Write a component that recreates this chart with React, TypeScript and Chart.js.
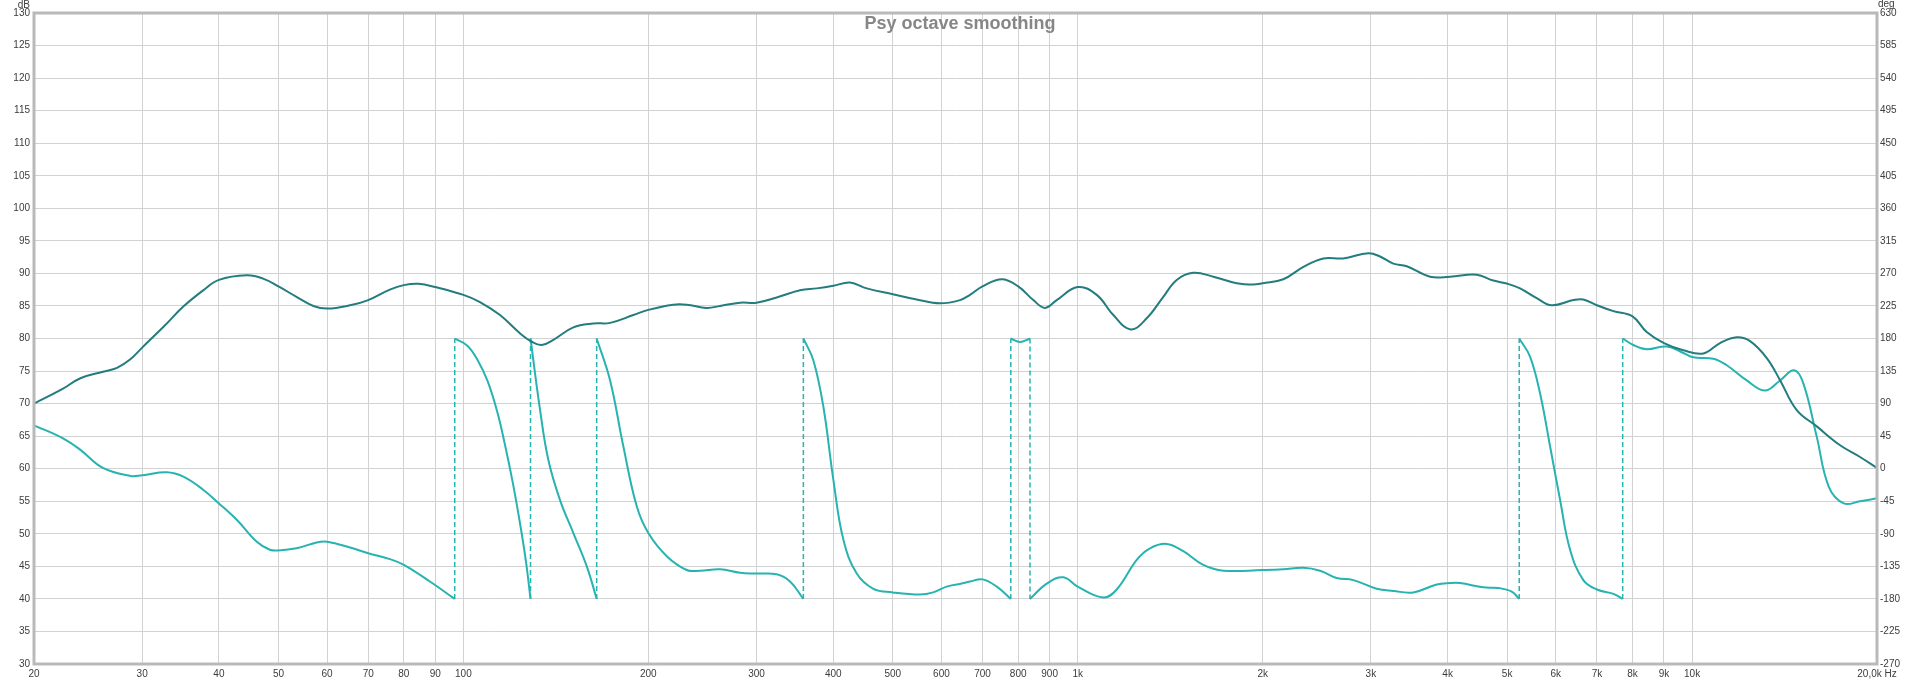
import React, { useEffect, useRef } from 'react';
import { Chart, registerables } from 'chart.js';

Chart.register(...registerables);

const chartTitle = 'Psy octave smoothing';
const leftUnit = 'dB';
const rightUnit = 'deg';

const freqTicks = [20, 30, 40, 50, 60, 70, 80, 90, 100, 200, 300, 400, 500, 600, 700, 800, 900, 1000, 2000, 3000, 4000, 5000, 6000, 7000, 8000, 9000, 10000, 20000];
const freqTickLabels = ['20', '30', '40', '50', '60', '70', '80', '90', '100', '200', '300', '400', '500', '600', '700', '800', '900', '1k', '2k', '3k', '4k', '5k', '6k', '7k', '8k', '9k', '10k', '20,0k Hz'];

// SPL (dB), left axis
const splFreq = [20, 22.3, 23.8, 25.9, 27.3, 28.7, 30, 32.5, 35, 37.7, 40, 44.4, 47.2, 50, 53.5, 57, 60, 65.4, 70, 75.9, 80, 84.5, 90, 100, 106.4, 114.7, 123.6, 129.2, 134.1, 140.1, 151, 162.7, 173.3, 189.1, 200, 219.6, 230.9, 248.9, 261.7, 282.1, 300, 323.6, 353.2, 376, 400.1, 426, 453.5, 500, 546.9, 596.8, 643.2, 667.7, 700, 752.3, 800, 846.6, 884.6, 924.2, 1000, 1073.8, 1142.7, 1219.7, 1295, 1378.2, 1449.1, 1542.1, 1662.2, 1814.7, 1931.1, 2000, 2161, 2330, 2511, 2706, 2972, 3105, 3264, 3432, 3746, 4038, 4460, 4748, 5010, 5248, 5586, 5908, 6408, 6652, 7000, 7446, 8000, 8436, 9000, 9676, 10432, 11106, 11822, 12430, 13232, 13906, 14804, 15958, 17418, 18768, 20000];
const splDb = [70.0, 72.3, 73.9, 74.9, 75.5, 76.8, 78.6, 81.8, 84.9, 87.4, 89.0, 89.7, 89.2, 88.0, 86.4, 85.0, 84.6, 85.1, 85.9, 87.5, 88.2, 88.4, 87.9, 86.7, 85.6, 83.6, 80.8, 79.5, 79.0, 79.8, 81.7, 82.3, 82.4, 83.6, 84.4, 85.2, 85.2, 84.7, 85.0, 85.5, 85.5, 86.3, 87.4, 87.7, 88.1, 88.6, 87.7, 86.8, 86.0, 85.4, 85.9, 86.7, 88.0, 89.1, 88.0, 85.9, 84.7, 85.9, 87.9, 86.7, 83.6, 81.4, 83.1, 86.4, 89.0, 90.1, 89.5, 88.5, 88.3, 88.5, 89.1, 91.0, 92.3, 92.3, 93.1, 92.6, 91.5, 91.1, 89.5, 89.5, 89.8, 88.9, 88.4, 87.7, 86.2, 85.1, 85.9, 86.0, 85.1, 84.2, 83.4, 81.0, 79.3, 78.2, 77.7, 79.3, 80.2, 79.6, 77.0, 73.6, 69.0, 66.5, 63.6, 61.8, 60.1];

// Phase (deg), right axis; a repeated frequency marks a wrap
const phaseFreq = [20, 22.3, 23.8, 25.9, 28.7, 30, 32.9, 35, 37.7, 40, 42.8, 46.1, 48.4, 50, 53.5, 57.7, 60, 65.4, 70, 75.9, 80, 88.2, 96.8,
  96.8, 101.5, 105.5, 109.5, 113.5, 117, 120.5, 124, 126.5, 128.6,
  128.6, 133.3, 137.5, 143.6, 151, 158.8, 164.8,
  164.8, 173.3, 182.1, 191.5, 200, 214.3, 230.9, 242.7, 261.7, 282.1, 300, 323.6, 340.2, 357.6,
  357.6, 371.2, 385.4, 400.1, 415.4, 436.8, 464.8, 500, 553.7, 582, 611.9, 645, 667.7, 700, 738.3, 778.1,
  778.1, 805.4, 836.2,
  836.2, 890.2, 947.3, 1000, 1100.7, 1157.4, 1247.4, 1311.1, 1395.8, 1485.4, 1601.1, 1725.8, 2000, 2161, 2330, 2480, 2640, 2810, 3067, 3264, 3518, 3841, 4038, 4190, 4574, 4850, 5086, 5232,
  5232, 5448, 5657, 5873, 6097, 6330, 6652, 7000, 7446, 7710,
  7710, 8024, 8436, 9092, 9676, 10046, 10830, 11388, 12276, 13146, 13906, 14656, 15176, 15958, 16696, 17662, 18768, 20000];
const phaseDeg = [60, 42, 26, 1, -10, -9, -5, -11, -29, -48, -71, -101, -112, -113, -110, -102, -101, -109, -117, -125, -133, -156, -180,
  180, 170, 150, 121, 79, 31, -22, -82, -130, -180,
  180, 81, 12, -43, -89, -135, -180,
  180, 122, 31, -52, -89, -121, -140, -141, -139, -144, -145, -146, -156, -180,
  180, 150, 86, -15, -98, -145, -166, -171, -174, -171, -163, -159, -156, -153, -163, -180,
  180, 175, 180,
  -180, -159, -150, -163, -178, -167, -126, -110, -104, -114, -133, -141, -140, -139, -137, -141, -151, -154, -166, -169, -171, -160, -158, -158, -164, -165, -170, -180,
  180, 155, 104, 31, -43, -112, -154, -167, -173, -180,
  180, 171, 165, 169, 160, 154, 152, 143, 122, 108, 122, 136, 118, 44, -25, -48, -45, -41];

const splColor = '#237c7e';
const phaseColor = '#27b3b0';
const gridColor = '#d2d2d2';
const tickColor = '#3c3c3c';
const FONT = '"Liberation Sans", Arial, sans-serif';

function buildPhaseDatasets() {
  const segments: { x: number; y: number }[][] = [];
  const wraps: { x: number; y: number | null }[] = [];
  let cur: { x: number; y: number }[] = [];
  for (let i = 0; i < phaseFreq.length; i++) {
    if (i > 0 && phaseFreq[i] === phaseFreq[i - 1]) {
      segments.push(cur);
      cur = [];
      wraps.push({ x: phaseFreq[i], y: phaseDeg[i - 1] }, { x: phaseFreq[i], y: phaseDeg[i] }, { x: phaseFreq[i], y: null });
    }
    cur.push({ x: phaseFreq[i], y: phaseDeg[i] });
  }
  segments.push(cur);
  const sets: any[] = segments.map((seg) => ({
    data: seg,
    yAxisID: 'y2',
    borderColor: phaseColor,
    borderWidth: 2,
    pointRadius: 0,
    tension: 0.4,
    fill: false,
  }));
  sets.push({
    data: wraps,
    yAxisID: 'y2',
    borderColor: phaseColor,
    borderWidth: 1.5,
    borderDash: [5, 3],
    pointRadius: 0,
    tension: 0,
    spanGaps: false,
    fill: false,
  });
  return sets;
}

const decorPlugin = {
  id: 'decor',
  afterDraw(chart: any) {
    const { ctx, chartArea: a, width } = chart;
    ctx.save();
    ctx.strokeStyle = '#b9b9b9';
    ctx.lineWidth = 3;
    ctx.strokeRect(a.left, a.top, a.right - a.left, a.bottom - a.top);
    ctx.fillStyle = '#868686';
    ctx.font = 'bold 18px ' + FONT;
    ctx.textAlign = 'center';
    ctx.textBaseline = 'alphabetic';
    ctx.fillText(chartTitle, width / 2, 29);
    ctx.fillStyle = tickColor;
    ctx.font = '10px ' + FONT;
    ctx.textAlign = 'right';
    ctx.fillText(leftUnit, a.left - 4, 8);
    ctx.textAlign = 'left';
    ctx.fillText(rightUnit, a.right + 1, 7);
    ctx.restore();
  },
};

export default function App() {
  const ref = useRef<HTMLCanvasElement>(null);
  useEffect(() => {
    document.body.style.margin = '0';
    const canvas = ref.current!;
    const chart = new Chart(canvas, {
      type: 'line',
      data: {
        datasets: [
          {
            data: splFreq.map((f, i) => ({ x: f, y: splDb[i] })),
            yAxisID: 'y',
            borderColor: splColor,
            borderWidth: 2,
            pointRadius: 0,
            tension: 0.4,
            fill: false,
          } as any,
          ...buildPhaseDatasets(),
        ],
      },
      options: {
        animation: false,
        responsive: false,
        devicePixelRatio: 1,
        parsing: false as any,
        normalized: true,
        events: [],
        layout: { padding: { top: 13, left: 0, right: 0, bottom: 0 } },
        plugins: { legend: { display: false }, tooltip: { enabled: false }, title: { display: false } },
        scales: {
          x: {
            type: 'logarithmic',
            min: 20,
            max: 20000,
            afterBuildTicks: (scale: any) => {
              scale.ticks = freqTicks.map((v) => ({ value: v }));
            },
            afterFit: (scale: any) => {
              scale.height = 18;
            },
            ticks: {
              autoSkip: false,
              maxRotation: 0,
              minRotation: 0,
              padding: 4,
              color: tickColor,
              font: { family: FONT, size: 10 },
              callback: (_v: any, i: number) => freqTickLabels[i],
            },
            grid: { color: gridColor, drawTicks: false, lineWidth: 1 },
            border: { display: false },
          },
          y: {
            type: 'linear',
            position: 'left',
            min: 30,
            max: 130,
            afterFit: (scale: any) => {
              scale.width = 34;
            },
            ticks: { stepSize: 5, padding: 4, color: tickColor, font: { family: FONT, size: 10 } },
            grid: { color: gridColor, drawTicks: false, lineWidth: 1 },
            border: { display: false },
          },
          y2: {
            type: 'linear',
            position: 'right',
            min: -270,
            max: 630,
            afterFit: (scale: any) => {
              scale.width = 43;
            },
            ticks: { stepSize: 45, padding: 3, color: tickColor, font: { family: FONT, size: 10 } },
            grid: { display: false, drawTicks: false },
            border: { display: false },
          },
        },
      } as any,
      plugins: [decorPlugin],
    });
    return () => chart.destroy();
  }, []);
  return (
    <div style={{ width: 1920, height: 682, background: '#fff' }}>
      <canvas ref={ref} width={1920} height={682} style={{ display: 'block' }} />
    </div>
  );
}
